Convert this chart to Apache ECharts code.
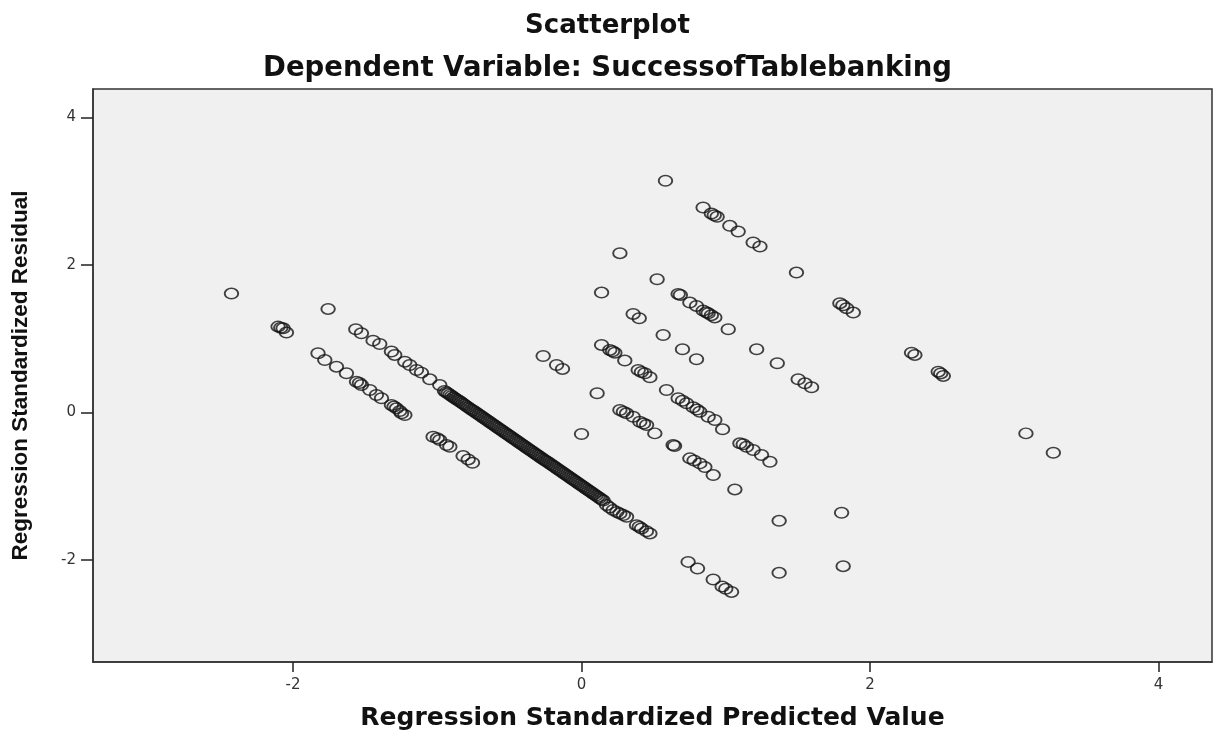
<!DOCTYPE html>
<html><head><meta charset="utf-8">
<script src="https://cdn.jsdelivr.net/npm/echarts@6/dist/echarts.min.js"></script>
<style>html,body{margin:0;padding:0;background:#fff}#c{width:1215px;height:731px}</style>
</head><body><div id="c"></div>
<script>
// Tick labels
const xTicks = [-2, 0, 2, 4];
const yTicks = [-2, 0, 2, 4];

// Points, grouped by visible residual band: [predicted, residual]
const bandTop = [[0.582,3.143],[0.843,2.781],[0.900,2.700],[0.920,2.675],[0.940,2.655],[1.028,2.532],[1.086,2.455],[1.190,2.306],[1.237,2.251],[1.490,1.898],[1.791,1.483],[1.812,1.455],[1.838,1.415],[1.884,1.355],[2.288,0.812],[2.311,0.781],[2.473,0.554],[2.490,0.530],[2.508,0.496],[3.081,-0.283],[3.271,-0.546]];
const bandB = [[0.266,2.161],[0.524,1.808],[0.670,1.609],[0.685,1.595],[0.751,1.491],[0.797,1.446],[0.843,1.382],[0.865,1.360],[0.878,1.347],[0.900,1.320],[0.924,1.290],[1.017,1.129],[1.214,0.858],[1.357,0.668],[1.502,0.451],[1.549,0.396],[1.595,0.342]];
const bandC = [[0.139,1.627],[0.358,1.337],[0.400,1.279],[0.566,1.052],[0.700,0.858],[0.797,0.722]];
const bandD = [[0.139,0.917],[0.196,0.849],[0.215,0.830],[0.231,0.812],[0.300,0.704],[0.393,0.577],[0.415,0.550],[0.439,0.532],[0.474,0.478],[0.589,0.306],[0.670,0.193],[0.700,0.160],[0.728,0.125],[0.774,0.071],[0.800,0.040],[0.820,0.011],[0.878,-0.057],[0.924,-0.102],[0.978,-0.228],[1.098,-0.418],[1.121,-0.430],[1.144,-0.464],[1.190,-0.509],[1.248,-0.577],[1.306,-0.668],[1.803,-1.360]];
const bandE = [[-0.266,0.767],[-0.173,0.645],[-0.132,0.591],[0.108,0.261],[0.266,0.034],[0.290,0.010],[0.312,-0.011],[0.358,-0.057],[0.404,-0.125],[0.430,-0.150],[0.451,-0.170],[0.508,-0.283],[0.635,-0.441],[0.645,-0.455],[0.751,-0.622],[0.780,-0.650],[0.820,-0.690],[0.855,-0.740],[0.913,-0.849],[1.063,-1.043],[1.370,-1.469],[1.814,-2.084]];
const bandF = [[0.000,-0.292],[1.370,-2.175]];
const bandMain = [[-1.757,1.405],[-1.565,1.130],[-1.526,1.075],[-1.445,0.975],[-1.399,0.930],[-1.318,0.826],[-1.295,0.781],[-1.225,0.690],[-1.191,0.645],[-1.144,0.577],[-1.110,0.541],[-1.052,0.450],[-0.983,0.373],
 [-0.950,0.293],[-0.925,0.259],[-0.900,0.225],[-0.875,0.191],[-0.850,0.158],[-0.825,0.124],[-0.800,0.090],[-0.775,0.056],[-0.750,0.023],[-0.725,-0.011],[-0.700,-0.045],[-0.675,-0.079],[-0.650,-0.113],[-0.625,-0.146],[-0.600,-0.180],[-0.575,-0.214],[-0.550,-0.248],[-0.525,-0.281],[-0.500,-0.315],[-0.475,-0.349],[-0.450,-0.383],[-0.425,-0.416],[-0.400,-0.450],[-0.375,-0.484],[-0.350,-0.518],[-0.325,-0.551],[-0.300,-0.585],[-0.275,-0.619],[-0.250,-0.653],[-0.225,-0.686],[-0.200,-0.720],[-0.175,-0.754],[-0.150,-0.788],[-0.125,-0.821],[-0.100,-0.855],[-0.075,-0.889],[-0.050,-0.923],[-0.025,-0.956],[0.000,-0.990],[0.025,-1.024],[0.050,-1.058],[0.075,-1.091],[0.100,-1.125],[0.125,-1.159],[0.150,-1.193],
 [-0.9375,0.276],[-0.9125,0.242],[-0.8875,0.208],[-0.8625,0.174],[-0.8375,0.141],[-0.8125,0.107],[-0.7875,0.073],[-0.7625,0.039],[-0.7375,0.006],[-0.7125,-0.028],[-0.6875,-0.062],[-0.6625,-0.096],[-0.6375,-0.129],[-0.6125,-0.163],[-0.5875,-0.197],[-0.5625,-0.231],[-0.5375,-0.264],[-0.5125,-0.298],[-0.4875,-0.332],[-0.4625,-0.366],[-0.4375,-0.399],[-0.4125,-0.433],[-0.3875,-0.467],[-0.3625,-0.501],[-0.3375,-0.534],[-0.3125,-0.568],[-0.2875,-0.602],[-0.2625,-0.636],[-0.2375,-0.669],[-0.2125,-0.703],[-0.1875,-0.737],[-0.1625,-0.771],[-0.1375,-0.804],[-0.1125,-0.838],[-0.0875,-0.872],[-0.0625,-0.906],[-0.0375,-0.939],[-0.0125,-0.973],[0.0125,-1.007],[0.0375,-1.041],[0.0625,-1.074],[0.0875,-1.108],[0.1125,-1.142],[0.1375,-1.176],
 [0.173,-1.256],[0.195,-1.290],[0.219,-1.324],[0.245,-1.350],[0.266,-1.369],[0.290,-1.390],[0.312,-1.415],[0.381,-1.528],[0.400,-1.550],[0.416,-1.572],[0.450,-1.610],[0.474,-1.640],
 [0.739,-2.026],[0.804,-2.116],[0.913,-2.265],[0.975,-2.360],[1.000,-2.390],[1.040,-2.433]];
const bandLow = [[-2.427,1.613],[-2.104,1.165],[-2.085,1.150],[-2.069,1.143],[-2.046,1.084],[-1.827,0.804],[-1.780,0.713],[-1.699,0.622],[-1.630,0.532],[-1.560,0.418],[-1.540,0.400],[-1.526,0.373],[-1.468,0.306],[-1.422,0.238],[-1.387,0.193],[-1.318,0.102],[-1.300,0.080],[-1.283,0.057],[-1.260,0.020],[-1.248,-0.011],[-1.225,-0.034],[-1.029,-0.328],[-1.000,-0.350],[-0.983,-0.373],[-0.936,-0.441],[-0.913,-0.464],[-0.821,-0.591],[-0.786,-0.636],[-0.756,-0.681]];

const points = [].concat(bandTop, bandB, bandC, bandD, bandE, bandF, bandMain, bandLow);

const ellipse = 'path://M0,50A50,50 0 1,1 100,50A50,50 0 1,1 0,50Z';
const titleFont = {fontFamily: 'DejaVu Sans', fontWeight: 'bold', fontSize: 26, color: '#111'};
const subFont = {fontFamily: 'DejaVu Sans', fontWeight: 'bold', fontSize: 27.5, color: '#111'};
const xNameFont = {fontFamily: 'DejaVu Sans', fontWeight: 'bold', fontSize: 25, color: '#111'};

const chart = echarts.init(document.getElementById('c'), null, {renderer: 'canvas'});
chart.setOption({
  animation: false,
  backgroundColor: '#ffffff',
  title: [
    {text: 'Scatterplot', left: 'center', top: 8, textStyle: titleFont},
    {text: 'Dependent Variable: SuccessofTablebanking', left: 'center', top: 50, textStyle: subFont}
  ],
  grid: {left: 93, right: 3, top: 89, bottom: 69, containLabel: false, outerBoundsMode: 'none', show: true, backgroundColor: '#f0f0f0', borderColor: '#333', borderWidth: 1.5},
  xAxis: {
    type: 'value', min: -3.387, max: 4.371, splitNumber: xTicks.length,
    axisLine: {show: true, onZero: false, lineStyle: {color: '#333', width: 1.5}},
    axisTick: {show: true, length: 10, lineStyle: {color: '#222', width: 1.5}},
    axisLabel: {showMinLabel: false, showMaxLabel: false, margin: 16, fontFamily: 'DejaVu Sans', fontSize: 15, color: '#333'},
    splitLine: {show: false},
    name: 'Regression Standardized Predicted Value', nameLocation: 'middle', nameGap: 44,
    nameTextStyle: xNameFont
  },
  yAxis: {
    type: 'value', min: -3.384, max: 4.388,
    axisLine: {show: true, onZero: false, lineStyle: {color: '#333', width: 1.5}},
    axisTick: {show: true, length: 12, customValues: yTicks, lineStyle: {color: '#222', width: 1.5}},
    axisLabel: {customValues: yTicks, margin: 17, fontFamily: 'DejaVu Sans', fontSize: 15, color: '#333'},
    splitLine: {show: false},
    name: 'Regression Standardized Residual', nameLocation: 'middle', nameGap: 61,
    nameTextStyle: {fontFamily: 'Liberation Sans', fontWeight: 'bold', fontSize: 22.5, color: '#111'}
  },
  series: [{
    type: 'scatter', data: points, symbol: ellipse, symbolSize: [13.5, 10.5],
    itemStyle: {color: 'rgba(0,0,0,0)', borderColor: '#141414', borderWidth: 1.7}
  }]
});
</script></body></html>
